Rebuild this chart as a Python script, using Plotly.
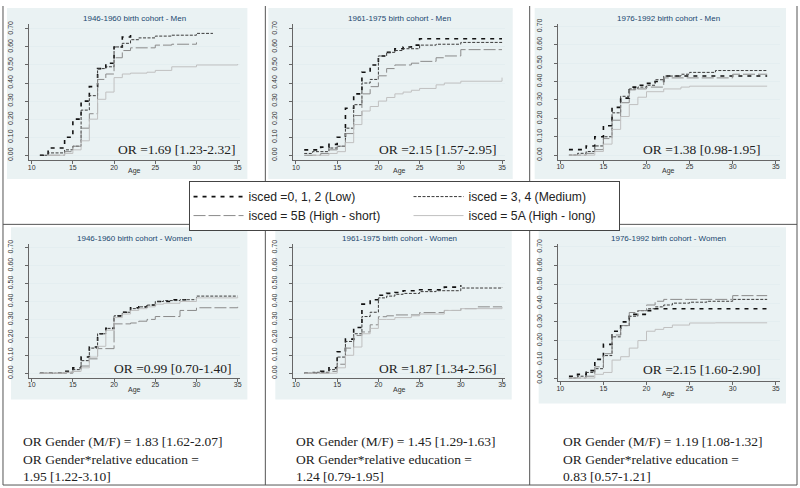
import plotly.graph_objects as go

W, H = 800, 488


def fx(px):
    return px / W


def fy(py):
    return 1 - py / H


SERIES_NAMES = ["isced =0, 1, 2 (Low)", "isced = 3, 4 (Medium)",
                "isced = 5B (High - short)", "isced = 5A (High - long)"]

PANEL_TITLES = ["1946-1960 birth cohort - Men", "1961-1975 birth cohort - Men",
                "1976-1992 birth cohort - Men", "1946-1960 birth cohort - Women",
                "1961-1975 birth cohort - Women", "1976-1992 birth cohort - Women"]

PANEL_OR = ["OR =1.69 [1.23-2.32]", "OR =2.15 [1.57-2.95]", "OR =1.38 [0.98-1.95]",
            "OR =0.99 [0.70-1.40]", "OR =1.87 [1.34-2.56]", "OR =2.15 [1.60-2.90]"]

BOTTOM_TEXT = [
    "OR Gender (M/F) = 1.83 [1.62-2.07]<br>OR Gender*relative education =<br>1.95 [1.22-3.10]",
    "OR Gender (M/F) = 1.45 [1.29-1.63]<br>OR Gender*relative education =<br>1.24 [0.79-1.95]",
    "OR Gender (M/F) = 1.19 [1.08-1.32]<br>OR Gender*relative education =<br>0.83 [0.57-1.21]",
]

X_TICKS = [10, 15, 20, 25, 30, 35]
Y_TICKS = [0.0, 0.1, 0.2, 0.3, 0.4, 0.5, 0.6, 0.7]
Y_TICK_TEXT = ["0.00", "0.10", "0.20", "0.30", "0.40", "0.50", "0.60", "0.70"]

# ---- 1946-1960 Men
M1_LOW_AGE = [11, 12, 14, 15, 16, 17, 18, 19, 20, 21, 22]
M1_LOW_VAL = [0.00, 0.04, 0.10, 0.20, 0.30, 0.38, 0.48, 0.51, 0.60, 0.655, 0.685]
M1_MED_AGE = [11, 12, 14, 15, 16, 17, 18, 19, 20, 21, 22, 23, 25, 27, 30, 32]
M1_MED_VAL = [0.00, 0.013, 0.03, 0.05, 0.25, 0.33, 0.48, 0.49, 0.60, 0.62, 0.64, 0.65, 0.66, 0.665, 0.675, 0.675]
M1_HS_AGE = [12, 14, 15, 16, 17, 18, 19, 20, 21, 22, 25, 27, 30]
M1_HS_VAL = [0.00, 0.02, 0.05, 0.15, 0.23, 0.42, 0.45, 0.54, 0.58, 0.595, 0.61, 0.615, 0.625]
M1_HL_AGE = [12, 14, 15, 16, 17, 18, 19, 20, 21, 22, 24, 25, 27, 30, 35]
M1_HL_VAL = [0.00, 0.01, 0.03, 0.08, 0.20, 0.31, 0.35, 0.43, 0.45, 0.455, 0.46, 0.47, 0.49, 0.50, 0.505]

# ---- 1961-1975 Men
M2_LOW_AGE = [11, 13, 14, 15, 16, 17, 18, 19, 20, 21, 22, 23, 24, 25, 35]
M2_LOW_VAL = [0.03, 0.045, 0.06, 0.10, 0.26, 0.34, 0.46, 0.50, 0.55, 0.57, 0.59, 0.60, 0.61, 0.645, 0.645]
M2_MED_AGE = [11, 12, 14, 15, 16, 17, 18, 19, 20, 21, 22, 23, 25, 27, 30, 35]
M2_MED_VAL = [0.01, 0.02, 0.04, 0.05, 0.15, 0.28, 0.40, 0.42, 0.55, 0.57, 0.58, 0.59, 0.61, 0.615, 0.625, 0.63]
M2_HS_AGE = [11, 13, 14, 15, 16, 17, 18, 19, 20, 21, 22, 24, 25, 27, 28, 30, 35]
M2_HS_VAL = [0.00, 0.01, 0.03, 0.05, 0.12, 0.22, 0.34, 0.38, 0.44, 0.48, 0.50, 0.51, 0.52, 0.54, 0.55, 0.585, 0.585]
M2_HL_AGE = [12, 14, 15, 16, 17, 18, 19, 20, 21, 22, 23, 24, 25, 27, 28, 30, 35]
M2_HL_VAL = [0.00, 0.01, 0.02, 0.07, 0.17, 0.245, 0.27, 0.30, 0.32, 0.34, 0.35, 0.36, 0.37, 0.39, 0.40, 0.41, 0.43]

# ---- 1976-1992 Men
M3_LOW_AGE = [11, 13, 14, 15, 16, 17, 18, 19, 20, 21, 22, 34]
M3_LOW_VAL = [0.03, 0.05, 0.10, 0.16, 0.26, 0.31, 0.37, 0.38, 0.39, 0.40, 0.43, 0.43]
M3_MED_AGE = [11, 12, 13, 14, 15, 16, 17, 18, 19, 20, 21, 22, 24, 25, 28, 34]
M3_MED_VAL = [0.00, 0.01, 0.02, 0.05, 0.10, 0.23, 0.32, 0.36, 0.37, 0.38, 0.41, 0.43, 0.44, 0.45, 0.46, 0.46]
M3_HS_AGE = [11, 13, 14, 15, 16, 17, 18, 19, 20, 22, 24, 30, 34]
M3_HS_VAL = [0.00, 0.01, 0.03, 0.09, 0.19, 0.285, 0.355, 0.36, 0.37, 0.42, 0.42, 0.44, 0.44]
M3_HL_AGE = [11, 14, 15, 16, 17, 18, 19, 20, 22, 24, 25, 34]
M3_HL_VAL = [0.00, 0.02, 0.06, 0.14, 0.21, 0.275, 0.315, 0.345, 0.36, 0.37, 0.375, 0.375]

# ---- 1946-1960 Women
W1_LOW_AGE = [11, 14, 15, 16, 17, 18, 19, 20, 21, 22, 23, 24, 25, 27, 29]
W1_LOW_VAL = [0.00, 0.01, 0.03, 0.09, 0.146, 0.22, 0.25, 0.32, 0.34, 0.365, 0.37, 0.38, 0.40, 0.41, 0.415]
W1_MED_AGE = [11, 14, 15, 16, 17, 18, 19, 20, 21, 22, 23, 24, 25, 26, 28, 30, 35]
W1_MED_VAL = [0.00, 0.005, 0.02, 0.07, 0.14, 0.22, 0.25, 0.32, 0.34, 0.36, 0.37, 0.38, 0.40, 0.405, 0.41, 0.43, 0.43]
W1_HS_AGE = [11, 15, 16, 17, 18, 20, 22, 23, 24, 25, 28, 30, 32, 35]
W1_HS_VAL = [0.00, 0.01, 0.04, 0.08, 0.137, 0.275, 0.28, 0.29, 0.30, 0.316, 0.35, 0.365, 0.365, 0.37]
W1_HL_AGE = [11, 14, 15, 16, 17, 18, 19, 20, 21, 22, 23, 24, 25, 26, 28, 30, 35]
W1_HL_VAL = [0.00, 0.005, 0.01, 0.03, 0.09, 0.15, 0.24, 0.31, 0.33, 0.35, 0.36, 0.37, 0.385, 0.39, 0.40, 0.42, 0.425]

# ---- 1961-1975 Women
W2_LOW_AGE = [11, 13, 14, 15, 16, 17, 18, 19, 20, 21, 22, 23, 25, 28, 30]
W2_LOW_VAL = [0.00, 0.01, 0.03, 0.12, 0.19, 0.255, 0.385, 0.41, 0.435, 0.445, 0.45, 0.46, 0.465, 0.48, 0.49]
W2_MED_AGE = [11, 12, 14, 15, 16, 17, 18, 19, 20, 21, 22, 23, 25, 27, 30, 35]
W2_MED_VAL = [0.00, 0.005, 0.02, 0.09, 0.177, 0.22, 0.316, 0.34, 0.42, 0.43, 0.44, 0.445, 0.455, 0.46, 0.475, 0.48]
W2_HS_AGE = [11, 14, 15, 16, 17, 18, 19, 20, 21, 22, 25, 28, 30, 32, 35]
W2_HS_VAL = [0.00, 0.01, 0.05, 0.14, 0.21, 0.23, 0.27, 0.315, 0.32, 0.325, 0.338, 0.35, 0.36, 0.37, 0.37]
W2_HL_AGE = [11, 15, 16, 17, 18, 19, 20, 21, 22, 24, 25, 28, 30, 35]
W2_HL_VAL = [0.00, 0.03, 0.10, 0.146, 0.22, 0.25, 0.30, 0.30, 0.31, 0.32, 0.33, 0.35, 0.36, 0.37]

# ---- 1976-1992 Women
W3_LOW_AGE = [11, 12, 13, 14, 15, 16, 17, 18, 20, 21, 34]
W3_LOW_VAL = [0.01, 0.02, 0.04, 0.10, 0.18, 0.25, 0.30, 0.34, 0.36, 0.37, 0.37]
W3_MED_AGE = [11, 12, 13, 14, 15, 16, 17, 18, 19, 20, 21, 22, 23, 25, 27, 30, 34]
W3_MED_VAL = [0.00, 0.01, 0.03, 0.05, 0.12, 0.22, 0.28, 0.33, 0.36, 0.37, 0.38, 0.39, 0.40, 0.405, 0.41, 0.42, 0.42]
W3_HS_AGE = [11, 13, 14, 15, 16, 17, 18, 19, 20, 21, 22, 25, 30, 34]
W3_HS_VAL = [0.00, 0.01, 0.06, 0.13, 0.23, 0.28, 0.35, 0.36, 0.39, 0.41, 0.42, 0.42, 0.44, 0.44]
W3_HL_AGE = [11, 14, 15, 16, 17, 18, 19, 20, 21, 22, 23, 25, 28, 34]
W3_HL_VAL = [0.00, 0.02, 0.03, 0.096, 0.114, 0.16, 0.20, 0.25, 0.26, 0.27, 0.283, 0.294, 0.295, 0.295]

PANEL_DATA = [
    [(M1_LOW_AGE, M1_LOW_VAL), (M1_MED_AGE, M1_MED_VAL), (M1_HS_AGE, M1_HS_VAL), (M1_HL_AGE, M1_HL_VAL)],
    [(M2_LOW_AGE, M2_LOW_VAL), (M2_MED_AGE, M2_MED_VAL), (M2_HS_AGE, M2_HS_VAL), (M2_HL_AGE, M2_HL_VAL)],
    [(M3_LOW_AGE, M3_LOW_VAL), (M3_MED_AGE, M3_MED_VAL), (M3_HS_AGE, M3_HS_VAL), (M3_HL_AGE, M3_HL_VAL)],
    [(W1_LOW_AGE, W1_LOW_VAL), (W1_MED_AGE, W1_MED_VAL), (W1_HS_AGE, W1_HS_VAL), (W1_HL_AGE, W1_HL_VAL)],
    [(W2_LOW_AGE, W2_LOW_VAL), (W2_MED_AGE, W2_MED_VAL), (W2_HS_AGE, W2_HS_VAL), (W2_HL_AGE, W2_HL_VAL)],
    [(W3_LOW_AGE, W3_LOW_VAL), (W3_MED_AGE, W3_MED_VAL), (W3_HS_AGE, W3_HS_VAL), (W3_HL_AGE, W3_HL_VAL)],
]

STYLES = [
    dict(color="#111111", width=1.6, dash="4px,5px"),
    dict(color="#3a3a3a", width=1.0, dash="3px,1.5px"),
    dict(color="#8a8a8a", width=1.0, dash="12px,3px"),
    dict(color="#c0c0c0", width=1.0, dash="solid"),
]
GROUPS = ["a", "b", "a", "b"]
LEGEND_WIDTHS = [155, 145, 155, 145]

# panel geometry in pixels: plot area (x0, y0, x1, y1), axis ranges, background box
GEOM = [
    dict(plot=(28, 18.3, 240, 156.7), xr=(9.67, 35.33), yr=(-0.027, 0.727), bg=(6, 2, 247, 176),
         title_y=13, age_y=168, orxy=(237, 146)),
    dict(plot=(293, 18.3, 505, 156.7), xr=(9.67, 35.33), yr=(-0.027, 0.727), bg=(268, 2, 513, 176),
         title_y=13, age_y=168, orxy=(498, 146)),
    dict(plot=(558.3, 18.3, 780.7, 156.5), xr=(9.72, 35.46), yr=(-0.026, 0.713), bg=(535, 2, 787, 176),
         title_y=13, age_y=168, orxy=(763, 146)),
    dict(plot=(28, 241.7, 240, 377.7), xr=(9.67, 35.33), yr=(-0.024, 0.722), bg=(10, 225, 247, 400),
         title_y=236, age_y=390.7, orxy=(233, 369)),
    dict(plot=(293, 241.7, 505, 377.7), xr=(9.67, 35.33), yr=(-0.024, 0.722), bg=(275, 225, 512, 400),
         title_y=236, age_y=390.7, orxy=(498, 369)),
    dict(plot=(558.3, 241.7, 780.7, 381.7), xr=(9.72, 35.46), yr=(-0.018, 0.717), bg=(539, 225, 787, 404),
         title_y=236, age_y=394, orxy=(763, 370)),
]

fig = go.Figure()
layout = dict(
    width=W, height=H, margin=dict(l=0, r=0, t=0, b=0),
    paper_bgcolor="white", plot_bgcolor="white",
    font=dict(family="Liberation Sans, Arial", color="#333"),
    shapes=[], annotations=[],
)

AX_COL = "#666666"
for i, (g, series) in enumerate(zip(GEOM, PANEL_DATA)):
    sfx = "" if i == 0 else str(i + 1)
    x0, y0, x1, y1 = g["plot"]
    for s, (ages, vals) in enumerate(series):
        fig.add_trace(go.Scatter(
            x=ages, y=vals, mode="lines", name=SERIES_NAMES[s],
            line=dict(shape="hv", **STYLES[s]),
            xaxis="x" + sfx, yaxis="y" + sfx, legendwidth=LEGEND_WIDTHS[s],
            showlegend=(i == 0), legendgroup=GROUPS[s], hoverinfo="skip"))
    layout["xaxis" + sfx] = dict(
        domain=[fx(x0), fx(x1)], range=list(g["xr"]), anchor="y" + sfx,
        tickvals=X_TICKS, showline=True, linecolor=AX_COL, linewidth=1,
        ticks="outside", ticklen=3, tickcolor=AX_COL, showgrid=False, zeroline=False,
        tickfont=dict(size=7, color="#333"), ticklabelstandoff=-3, fixedrange=True)
    layout["yaxis" + sfx] = dict(
        domain=[fy(y1), fy(y0)], range=list(g["yr"]), anchor="x" + sfx,
        tickvals=Y_TICKS, ticktext=Y_TICK_TEXT, tickangle=-90,
        showline=True, linecolor=AX_COL, linewidth=1,
        ticks="outside", ticklen=3, tickcolor=AX_COL,
        showgrid=True, gridcolor="#e4eef0", gridwidth=1, zeroline=False,
        tickfont=dict(size=7, color="#333"), ticklabelstandoff=9, fixedrange=True)
    bx0, by0, bx1, by1 = g["bg"]
    layout["shapes"].append(dict(
        type="rect", xref="paper", yref="paper", x0=fx(bx0), x1=fx(bx1), y0=fy(by1), y1=fy(by0),
        fillcolor="#eaf2f3", line=dict(width=0), layer="below"))
    cx = (x0 + x1) / 2
    layout["annotations"].append(dict(
        text=PANEL_TITLES[i], x=fx(cx), y=fy(g["title_y"]), xref="paper", yref="paper",
        xanchor="center", yanchor="middle", showarrow=False,
        font=dict(size=8, color="#1a476f", family="Liberation Sans, Arial")))
    layout["annotations"].append(dict(
        text="Age", x=fx(cx), y=fy(g["age_y"]), xref="paper", yref="paper",
        xanchor="center", yanchor="middle", showarrow=False,
        font=dict(size=7, color="#333", family="Liberation Sans, Arial")))
    ox, oy = g["orxy"]
    layout["annotations"].append(dict(
        text=PANEL_OR[i], x=fx(ox), y=fy(oy), xref="paper", yref="paper",
        xanchor="right", yanchor="middle", showarrow=False,
        font=dict(size=13.5, color="#222", family="Liberation Serif, serif")))

for t, xp in zip(BOTTOM_TEXT, [20, 294, 561]):
    layout["annotations"].append(dict(
        text=t, x=fx(xp), y=fy(460.5), xref="paper", yref="paper",
        xanchor="left", yanchor="middle", align="left", showarrow=False,
        font=dict(size=13.5, color="#222", family="Liberation Serif, serif")))

# table borders
BORDER = "#555555"
for (ax0, ay0, ax1, ay1) in [
    (2, 0, 2, 487), (798, 0, 798, 487), (2, 487, 798, 487), (2, 222, 798, 222),
    (265, 0, 265, 178), (530, 0, 530, 178), (265, 222, 265, 487), (530, 222, 530, 487),
]:
    layout["shapes"].append(dict(
        type="line", xref="paper", yref="paper", x0=fx(ax0), x1=fx(ax1), y0=fy(ay0), y1=fy(ay1),
        line=dict(color=BORDER, width=1), layer="above"))

layout["legend"] = dict(
    orientation="h", traceorder="grouped", x=fx(188), y=fy(178), xanchor="left", yanchor="top",
    bgcolor="white", bordercolor="#444", borderwidth=1, itemwidth=50,
    entrywidth=155, entrywidthmode="pixels", tracegroupgap=0,
    font=dict(size=12.2, color="#222", family="Liberation Sans, Arial"))

fig.update_layout(**layout)
fig.write_html("out.html", config={"displayModeBar": False},
               post_script="document.body.style.margin='0';document.body.style.overflow='hidden';")
